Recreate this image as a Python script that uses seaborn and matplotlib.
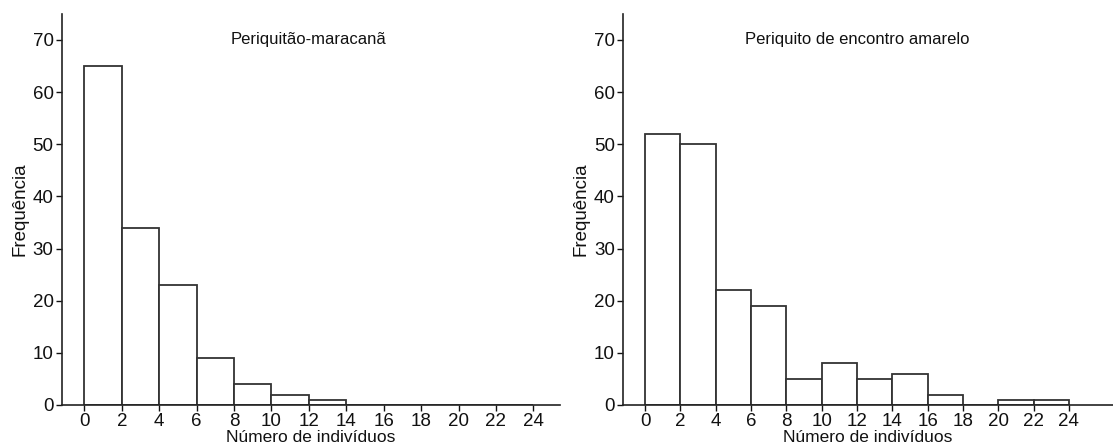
import numpy as np
import pandas as pd
import matplotlib.pyplot as plt
import seaborn as sns

# bin edges (width 2) and counts
bin_edges = list(range(0, 26, 2))
maracana_counts = [65, 34, 23, 9, 4, 2, 1, 0, 0, 0, 0, 0]
amarelo_counts = [52, 50, 22, 19, 5, 8, 5, 6, 2, 0, 1, 1]
titles = ['Periquitão-maracanã', 'Periquito de encontro amarelo']
x_ticks = list(range(0, 26, 2))
y_ticks = list(range(0, 80, 10))

sns.set_style('ticks')
plt.rcParams['font.family'] = ['Liberation Sans', 'DejaVu Sans']
plt.rcParams['text.color'] = '#111111'
plt.rcParams['axes.labelcolor'] = '#111111'
plt.rcParams['xtick.color'] = '#111111'
plt.rcParams['ytick.color'] = '#111111'

fig = plt.figure(figsize=(11.13, 4.46), dpi=100)
ax1 = fig.add_axes([0.0557, 0.092, 0.447, 0.877])
ax2 = fig.add_axes([0.5598, 0.092, 0.4402, 0.877])

panels = [(ax1, maracana_counts, (-1.2, 25.4)), (ax2, amarelo_counts, (-1.25, 26.5))]
for ax, counts, xlim in panels:
    df = pd.DataFrame({'mid': [e + 1 for e in bin_edges[:-1]], 'n': counts})
    sns.histplot(data=df, x='mid', weights='n', bins=bin_edges, ax=ax,
                 color='white', edgecolor='#333333', linewidth=1.3, alpha=1)
    ax.set_xlim(*xlim)
    ax.set_ylim(0, 75)
    ax.set_xticks(x_ticks)
    ax.set_yticks(y_ticks)
    ax.tick_params(labelsize=13.5, length=4, width=1, pad=2)
    ax.set_xlabel('Número de indivíduos', fontsize=12.5, labelpad=0)
    ax.set_ylabel('Frequência', fontsize=13.5, labelpad=3)
    sns.despine(ax=ax)
    for s in ['left', 'bottom']:
        ax.spines[s].set_linewidth(1.2)
        ax.spines[s].set_color('#222222')

for ax, t in zip([ax1, ax2], titles):
    ax.text(12, 70, t, ha='center', va='center', fontsize=12)

fig.savefig('out.png', dpi=100)
